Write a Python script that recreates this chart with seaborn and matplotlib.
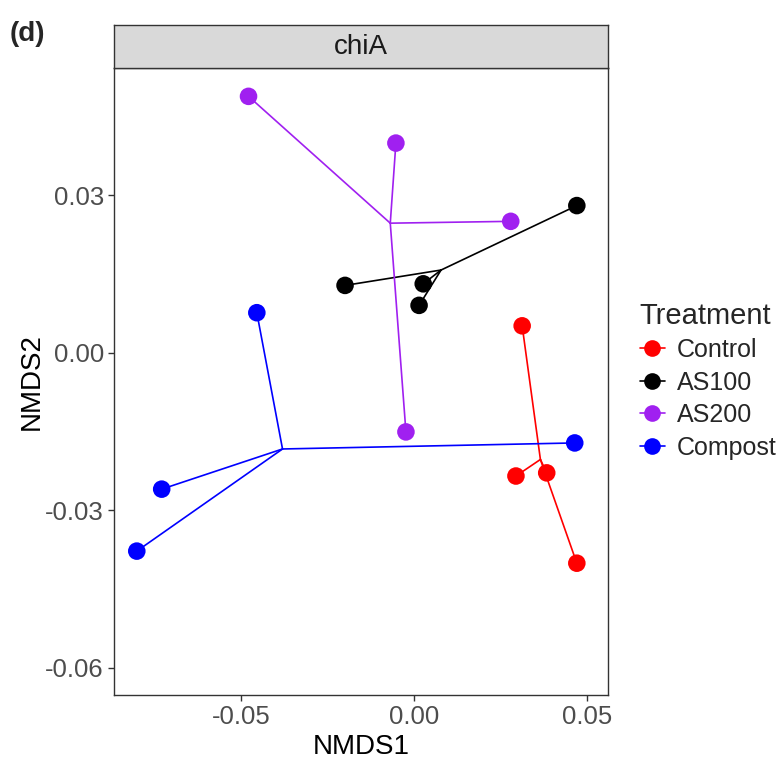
import numpy as np
import pandas as pd
import matplotlib
matplotlib.use("Agg")
import matplotlib.pyplot as plt
from matplotlib.lines import Line2D
import seaborn as sns

# NMDS site scores for the chiA community, four samples per treatment
treatments = ["Control", "AS100", "AS200", "Compost"]
palette = ["#FF0000", "#000000", "#A020F0", "#0000FF"]

control_nmds1 = [0.0313, 0.0295, 0.0384, 0.0471]
control_nmds2 = [0.0051, -0.0235, -0.0229, -0.0401]
as100_nmds1 = [-0.0199, 0.0027, 0.0015, 0.0471]
as100_nmds2 = [0.0128, 0.0131, 0.0090, 0.0280]
as200_nmds1 = [-0.0478, -0.0052, 0.0280, -0.0023]
as200_nmds2 = [0.0488, 0.0399, 0.0250, -0.0151]
compost_nmds1 = [-0.0454, 0.0465, -0.0729, -0.0801]
compost_nmds2 = [0.0076, -0.0172, -0.0260, -0.0378]

x_ticks = [-0.05, 0.00, 0.05]
y_ticks = [-0.06, -0.03, 0.00, 0.03]
panel_title = "chiA"

df = pd.DataFrame({
    "NMDS1": control_nmds1 + as100_nmds1 + as200_nmds1 + compost_nmds1,
    "NMDS2": control_nmds2 + as100_nmds2 + as200_nmds2 + compost_nmds2,
    "Treatment": (["Control"] * 4 + ["AS100"] * 4 + ["AS200"] * 4 + ["Compost"] * 4),
})
df["Treatment"] = pd.Categorical(df["Treatment"], categories=treatments, ordered=True)

sns.set_theme(style="white")
plt.rcParams["font.family"] = ["Liberation Sans", "DejaVu Sans"]
plt.rcParams["axes.unicode_minus"] = False

W, H = 782, 762
fig = plt.figure(figsize=(W / 100, H / 100), dpi=100)
px_l, px_r, px_t, px_b = 114.3, 608.3, 68, 695
ax = fig.add_axes([px_l / W, 1 - px_b / H, (px_r - px_l) / W, (px_b - px_t) / H])

# spider lines from each group centroid to its samples
cents = df.groupby("Treatment", observed=True)[["NMDS1", "NMDS2"]].mean()
for t, c in zip(treatments, palette):
    sub = df[df["Treatment"] == t]
    cx, cy = cents.loc[t, "NMDS1"], cents.loc[t, "NMDS2"]
    for _, r in sub.iterrows():
        ax.plot([cx, r["NMDS1"]], [cy, r["NMDS2"]], color=c, lw=1.2,
                solid_capstyle="round", zorder=2)

sns.scatterplot(data=df, x="NMDS1", y="NMDS2", hue="Treatment",
                hue_order=treatments, palette=palette, s=160,
                edgecolor="none", linewidth=0, legend=False, ax=ax, zorder=3)

ax.set_xlim(-0.0866, 0.0562)
ax.set_ylim(-0.0652, 0.0542)
ax.set_xticks(x_ticks)
ax.set_xticklabels([f"{v:.2f}" for v in x_ticks])
ax.set_yticks(y_ticks)
ax.set_yticklabels([f"{v:.2f}" for v in y_ticks])
ax.tick_params(axis="both", which="major", direction="out", length=4.5,
               width=1.0, color="#333333", labelsize=18.5,
               labelcolor="#4D4D4D", pad=3, bottom=True, left=True)
for sp in ax.spines.values():
    sp.set_color("#333333")
    sp.set_linewidth(1.0)
ax.set_xlabel("NMDS1", fontsize=20, color="black", labelpad=3)
ax.set_ylabel("NMDS2", fontsize=20, color="black", labelpad=0)
ax.grid(False)
ax.set_facecolor("white")

# facet strip
strip_t = 25
sax = fig.add_axes([px_l / W, 1 - px_t / H, (px_r - px_l) / W, (px_t - strip_t) / H])
sax.set_facecolor("#D9D9D9")
sax.set_xticks([])
sax.set_yticks([])
for sp in sax.spines.values():
    sp.set_color("#333333")
    sp.set_linewidth(1.0)
sax.text(0.5, 0.5, panel_title, ha="center", va="center", fontsize=20,
         color="#1A1A1A", transform=sax.transAxes)

# panel tag
fig.text(10 / W, 1 - 34 / H, "(d)", fontsize=20, fontweight="bold",
         ha="left", va="center")

handles = [Line2D([0], [0], color=c, lw=1.2, marker="o", markersize=12,
                  markeredgewidth=0) for c in palette]
leg = fig.legend(handles, treatments, title="Treatment", loc="upper left",
                 bbox_to_anchor=(622 / W, 1 - 284 / H), frameon=False,
                 fontsize=18, title_fontsize=21, handlelength=1.0,
                 handletextpad=0.5, labelspacing=0.34, borderpad=0.2)
leg._legend_box.align = "left"

fig.savefig("out.png", dpi=100)
